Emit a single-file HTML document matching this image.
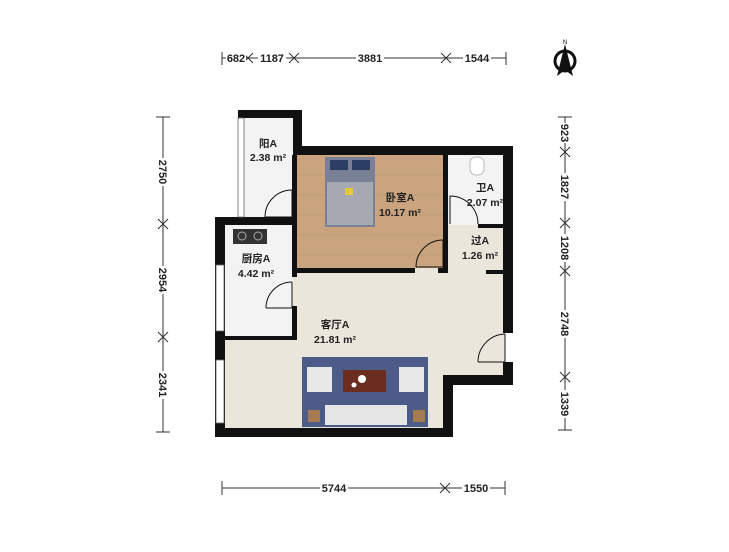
<!DOCTYPE html>
<html><head><meta charset="utf-8"><style>
body{margin:0;background:#fff;}
svg text{font-family:"Liberation Sans","Noto Sans CJK SC",sans-serif;}
</style></head><body>
<svg width="729" height="547" viewBox="0 0 729 547" xmlns="http://www.w3.org/2000/svg">
<!-- floors -->
<rect x="297" y="155" width="208" height="220" fill="#ebe6dc"/>
<rect x="225" y="225" width="225" height="205" fill="#ebe6dc"/>
<rect x="244" y="116" width="50" height="101" fill="#f3f3f3"/>
<rect x="225" y="225" width="68" height="112" fill="#f3f3f3"/>
<rect x="448" y="155" width="56" height="70" fill="#f3f3f3"/>
<rect x="297" y="155" width="146" height="113" fill="#c9a47e"/>
<g stroke="#b8926c" stroke-width="0.6">
<line x1="297" y1="175" x2="443" y2="175"/><line x1="297" y1="195" x2="443" y2="195"/><line x1="297" y1="215" x2="443" y2="215"/><line x1="297" y1="235" x2="443" y2="235"/><line x1="297" y1="255" x2="443" y2="255"/>
</g>
<!-- bed -->
<rect x="325" y="157" width="50" height="70" fill="#7a8196"/>
<rect x="327" y="182" width="46" height="43" fill="#a6a9b2"/>
<rect x="330" y="160" width="18" height="10" fill="#2c3e63"/><rect x="352" y="160" width="18" height="10" fill="#2c3e63"/>
<rect x="345" y="188" width="8" height="7" fill="#e9c640"/>
<!-- stove -->
<rect x="233" y="229" width="34" height="15" fill="#333"/>
<circle cx="242" cy="236" r="4" fill="none" stroke="#aaa"/><circle cx="258" cy="236" r="4" fill="none" stroke="#aaa"/>
<!-- toilet -->
<rect x="470" y="157" width="14" height="18" rx="6" fill="#fff" stroke="#bbb"/>
<!-- rug & furniture -->
<rect x="302" y="357" width="126" height="70" fill="#4c5b87"/>
<rect x="307" y="367" width="25" height="25" fill="#e8e8e8"/>
<rect x="399" y="367" width="25" height="25" fill="#e8e8e8"/>
<rect x="343" y="370" width="43" height="22" fill="#6b2e1e"/>
<circle cx="362" cy="379" r="4" fill="#fff"/><circle cx="354" cy="385" r="2.5" fill="#fff"/>
<rect x="325" y="405" width="82" height="20" fill="#e6e6e6"/>
<rect x="308" y="410" width="12" height="12" fill="#a57a50"/><rect x="413" y="410" width="12" height="12" fill="#a57a50"/>
<!-- walls -->
<g fill="#111">
<rect x="238" y="110" width="64" height="8"/>
<rect x="293" y="110" width="9" height="45"/>
<rect x="293" y="146" width="220" height="9"/>
<rect x="503" y="146" width="10" height="187"/>
<rect x="503" y="362" width="10" height="23"/>
<rect x="443" y="375" width="70" height="10"/>
<rect x="443" y="375" width="10" height="62"/>
<rect x="215" y="428" width="238" height="9"/>
<rect x="215" y="217" width="10" height="220"/>
<rect x="215" y="217" width="82" height="8"/>
<rect x="292" y="155" width="5" height="60"/>
<rect x="292" y="215" width="5" height="10"/>
<rect x="292" y="225" width="5" height="52"/>
<rect x="292" y="306" width="5" height="34"/>
<rect x="225" y="336" width="72" height="4"/>
<rect x="297" y="268" width="118" height="5"/>
<rect x="443" y="155" width="5" height="118"/>
<rect x="438" y="268" width="10" height="5"/>
<rect x="478" y="224" width="27" height="4"/>
<rect x="486" y="270" width="19" height="4"/>
</g>
<!-- windows -->
<g fill="#fff" stroke="#666" stroke-width="0.8">
<rect x="238" y="118" width="6" height="99"/>
<rect x="216" y="265" width="8" height="66"/>
<rect x="216" y="360" width="8" height="63"/>
</g>
<!-- doors -->
<g fill="none" stroke="#111" stroke-width="1">
<path d="M292 217 L265 217 M292 190 A27 27 0 0 0 265 217"/><line x1="292" y1="190" x2="292" y2="217"/>
<path d="M292 308 L266 308 M292 282 A26 26 0 0 0 266 308"/><line x1="292" y1="282" x2="292" y2="308"/>
<path d="M443 267 L416 267 M443 240 A27 27 0 0 0 416 267"/><line x1="443" y1="240" x2="443" y2="267"/>
<path d="M450 196 L450 224 M450 196 A28 28 0 0 1 478 224"/>
<path d="M505 334 L505 362 L478 362 M505 334 A28 28 0 0 0 478 362"/>
</g>
<!-- labels -->
<g font-size="10.5" fill="#222" text-anchor="middle" font-weight="bold">
<text x="268" y="147">阳A</text><text x="268" y="161">2.38 m²</text>
<text x="400" y="201">卧室A</text><text x="400" y="216">10.17 m²</text>
<text x="485" y="191">卫A</text><text x="485" y="206">2.07 m²</text>
<text x="480" y="244">过A</text><text x="480" y="259">1.26 m²</text>
<text x="256" y="262">厨房A</text><text x="256" y="277">4.42 m²</text>
<text x="335" y="328">客厅A</text><text x="335" y="343">21.81 m²</text>
</g>
<!-- dimensions -->
<g stroke="#333" stroke-width="1" fill="none">
<line x1="222" y1="58" x2="506" y2="58"/>
<line x1="222" y1="52" x2="222" y2="65"/><line x1="506" y1="52" x2="506" y2="65"/>
<path d="M243 53 l10 10 M253 53 l-10 10 M289 53 l10 10 M299 53 l-10 10 M441 53 l10 10 M451 53 l-10 10"/>
<line x1="163" y1="117" x2="163" y2="432"/>
<line x1="156" y1="117" x2="170" y2="117"/><line x1="156" y1="432" x2="170" y2="432"/>
<path d="M158 219 l10 10 M168 219 l-10 10 M158 332 l10 10 M168 332 l-10 10"/>
<line x1="565" y1="117" x2="565" y2="430"/>
<line x1="558" y1="117" x2="572" y2="117"/><line x1="558" y1="430" x2="572" y2="430"/>
<path d="M560 147 l10 10 M570 147 l-10 10 M560 218 l10 10 M570 218 l-10 10 M560 266 l10 10 M570 266 l-10 10 M560 372 l10 10 M570 372 l-10 10"/>
<line x1="222" y1="488" x2="505" y2="488"/>
<line x1="222" y1="481" x2="222" y2="495"/><line x1="505" y1="481" x2="505" y2="495"/>
<path d="M440 483 l10 10 M450 483 l-10 10"/>
</g>
<g font-size="11" fill="#222" text-anchor="middle" font-weight="bold">
<rect x="226" y="52" width="20" height="12" fill="#fff"/><text x="236" y="62">682</text>
<rect x="258" y="52" width="28" height="12" fill="#fff"/><text x="272" y="62">1187</text>
<rect x="356" y="52" width="28" height="12" fill="#fff"/><text x="370" y="62">3881</text>
<rect x="463" y="52" width="28" height="12" fill="#fff"/><text x="477" y="62">1544</text>
<rect x="320" y="482" width="28" height="12" fill="#fff"/><text x="334" y="492">5744</text>
<rect x="462" y="482" width="28" height="12" fill="#fff"/><text x="476" y="492">1550</text>
<g transform="translate(163,172) rotate(90)"><rect x="-14" y="-6" width="28" height="12" fill="#fff"/><text y="4">2750</text></g>
<g transform="translate(163,280) rotate(90)"><rect x="-14" y="-6" width="28" height="12" fill="#fff"/><text y="4">2954</text></g>
<g transform="translate(163,385) rotate(90)"><rect x="-14" y="-6" width="28" height="12" fill="#fff"/><text y="4">2341</text></g>
<g transform="translate(565,133) rotate(90)"><rect x="-10" y="-6" width="20" height="12" fill="#fff"/><text y="4">923</text></g>
<g transform="translate(565,187) rotate(90)"><rect x="-14" y="-6" width="28" height="12" fill="#fff"/><text y="4">1827</text></g>
<g transform="translate(565,248) rotate(90)"><rect x="-14" y="-6" width="28" height="12" fill="#fff"/><text y="4">1208</text></g>
<g transform="translate(565,324) rotate(90)"><rect x="-14" y="-6" width="28" height="12" fill="#fff"/><text y="4">2748</text></g>
<g transform="translate(565,404) rotate(90)"><rect x="-14" y="-6" width="28" height="12" fill="#fff"/><text y="4">1339</text></g>
</g>
<!-- north arrow -->
<circle cx="565" cy="61" r="10" fill="none" stroke="#111" stroke-width="3"/>
<path d="M565 44 L557 76 L565 70 L573 76 Z" fill="#111"/>
<text x="565" y="44" font-size="6" text-anchor="middle">N</text>
</svg>
</body></html>
